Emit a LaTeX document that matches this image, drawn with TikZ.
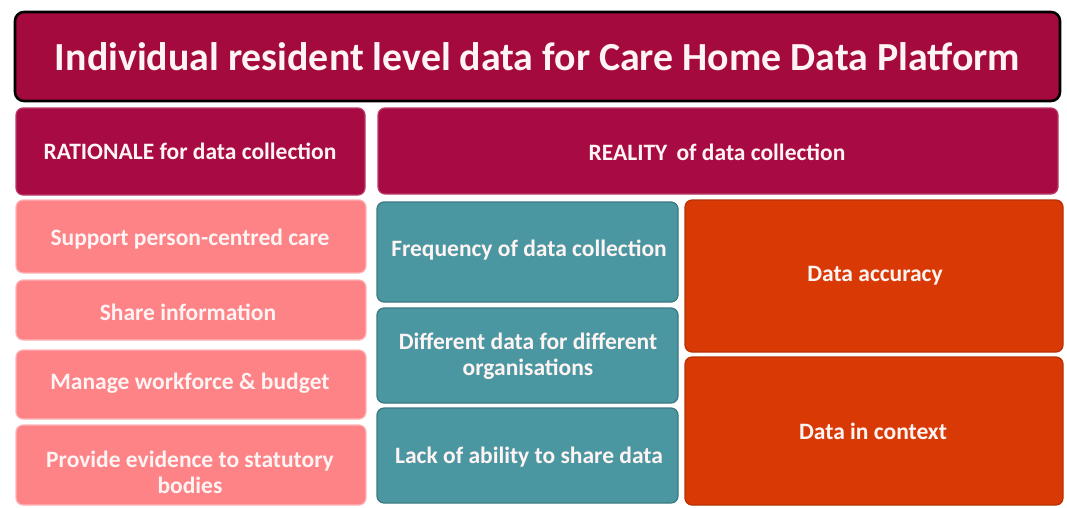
\documentclass[tikz,border=0pt]{standalone}
\usepackage{fontspec}
\setmainfont{Carlito}
\usepackage{graphicx}
\definecolor{maroon}{HTML}{A50A3F}
\definecolor{hdr}{HTML}{A80B43}
\definecolor{pinkbox}{HTML}{FD8387}
\definecolor{tealbox}{HTML}{4A97A1}
\definecolor{orangebox}{HTML}{D93A05}
\definecolor{txtc}{HTML}{FFF4F4}
\tikzset{
  box/.style={rectangle, rounded corners=7pt, inner sep=0pt, line width=1.2pt},
  titlebox/.style={box, fill=maroon, draw=black, line width=2.6pt, rounded corners=9pt},
  hdrbox/.style={box, fill=hdr, draw=hdr!80!white},
  pinkstyle/.style={box, fill=pinkbox, draw=pinkbox!60!white},
  tealstyle/.style={box, fill=tealbox, draw=tealbox!80!black},
  orangestyle/.style={box, fill=orangebox, draw=orangebox!85!black},
  lbl/.style={text=txtc, font=\fontsize{23.5}{26}\selectfont\bfseries, align=center, inner sep=0pt}
}
\begin{document}
\begin{tikzpicture}[x=1pt,y=-1pt]
\useasboundingbox[fill=white] (0,0) rectangle (1067,507);
% title
\node[titlebox, minimum width=1045pt, minimum height=89pt] (title) at (537.5,56.5) {};
\node[lbl] (titletxt) at (537.5,57) {\resizebox{965pt}{!}{\bfseries Individual resident level data for Care Home Data Platform}};
% headers
\node[hdrbox, minimum width=349pt, minimum height=87pt] (rat) at (190.5,151.5) {};
\node[lbl] (rattxt) at (190,151) {RATIONALE for data collection};
\node[hdrbox, minimum width=680pt, minimum height=86pt] (real) at (718,151) {};
\node[lbl] (realtxt) at (717,152) {REALITY\, of data collection};
% pink column
\node[pinkstyle, minimum width=350pt, minimum height=73pt] (sup) at (191,236.5) {};
\node[lbl] (suptxt) at (190,239) {Support person-centred care};
\node[pinkstyle, minimum width=350pt, minimum height=60pt] (share) at (191,310) {};
\node[lbl] (sharetxt) at (188,312) {Share information};
\node[pinkstyle, minimum width=350pt, minimum height=69pt] (manage) at (191,384.5) {};
\node[lbl] (managetxt) at (190,383) {Manage workforce \& budget};
\node[pinkstyle, minimum width=350pt, minimum height=80pt] (prov) at (191,465) {};
\node[lbl] (provtxt) at (190,472) {Provide evidence to statutory\\bodies};
% teal column
\node[tealstyle, minimum width=301pt, minimum height=100pt] (freq) at (527.5,252) {};
\node[lbl] (freqtxt) at (529,250) {Frequency of data collection};
\node[tealstyle, minimum width=301pt, minimum height=95pt] (diff) at (527.5,355.5) {};
\node[lbl] (difftxt) at (528,356) {Different data for different\\organisations};
\node[tealstyle, minimum width=301pt, minimum height=95pt] (lack) at (527.5,455.5) {};
\node[lbl] (lacktxt) at (529,457) {Lack of ability to share data};
% orange column
\node[orangestyle, minimum width=378pt, minimum height=152pt] (acc) at (874,276) {};
\node[lbl] (acctxt) at (875,276) {Data accuracy};
\node[orangestyle, minimum width=378pt, minimum height=148pt] (ctx) at (874,431) {};
\node[lbl] (ctxtxt) at (873,431) {Data in context};
\end{tikzpicture}
\end{document}
